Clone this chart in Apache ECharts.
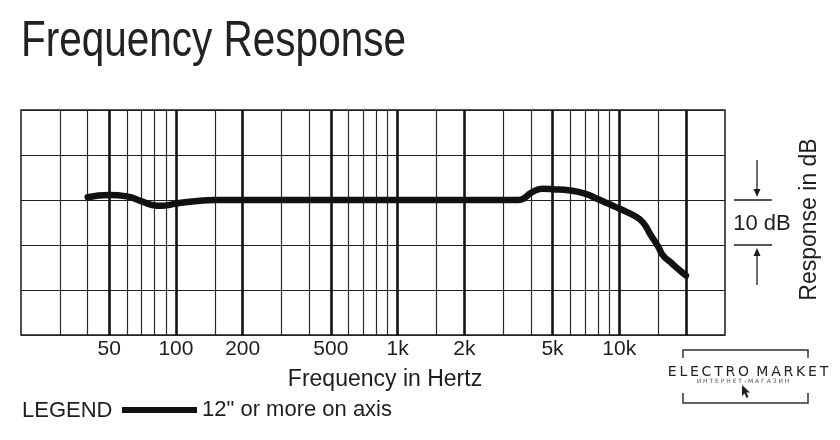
<!DOCTYPE html>
<html>
<head>
<meta charset="utf-8">
<script src="https://cdn.jsdelivr.net/npm/echarts@6/dist/echarts.min.js"></script>
<style>
  html, body { margin: 0; padding: 0; background: #ffffff; }
  #chart { width: 840px; height: 440px; }
</style>
</head>
<body>
<div id="chart"></div>
<script>
// ---- data ----
const freqHz = [40, 50, 60, 70, 78, 86, 100, 125, 150, 200, 500, 1000, 2000, 3000, 3500, 3700, 4000, 4500, 5000, 6000, 7000, 8000, 9000, 10000, 11700, 12800, 13800, 15000, 15800, 17200, 18500, 20000];
const responseDb = [0.6, 1.1, 0.8, -0.3, -1.1, -1.3, -0.8, -0.2, 0, 0, 0, 0, 0, 0, 0, 0.3, 1.6, 2.5, 2.4, 2.1, 1.4, 0.2, -0.9, -1.9, -3.5, -5.0, -7.6, -10.4, -12.4, -14.0, -15.4, -16.8];
const xTickValues = [50, 100, 200, 500, 1000, 2000, 5000, 10000];
const xTickLabels = ['50', '100', '200', '500', '1k', '2k', '5k', '10k'];
const majorGridHz = [50, 100, 200, 500, 1000, 2000, 5000, 10000, 20000];
const minorGridHz = [30, 40, 60, 70, 80, 90, 150, 300, 400, 600, 700, 800, 900, 1500, 3000, 4000, 6000, 7000, 8000, 9000, 15000];
const seriesName = '12" or more on axis';

const FONT = "'Liberation Sans', Arial, Helvetica, sans-serif";
const INK = '#1e1e1e';

const chart = echarts.init(document.getElementById('chart'), null, { renderer: 'canvas' });

const gridLines = [];
minorGridHz.forEach(function (f) {
  gridLines.push({ xAxis: f, lineStyle: { width: 1.2, color: '#2a2a2a', type: 'solid' }, label: { show: false } });
});
majorGridHz.forEach(function (f) {
  const idx = xTickValues.indexOf(f);
  gridLines.push({
    xAxis: f,
    lineStyle: { width: 2.6, color: '#111', type: 'solid' },
    label: idx >= 0 ? {
      show: true, position: 'start', distance: 4,
      formatter: xTickLabels[idx],
      fontFamily: FONT, fontSize: 21, color: INK
    } : { show: false }
  });
});

chart.setOption({
  animation: false,
  backgroundColor: '#ffffff',
  legend: {
    left: 122, top: 399, padding: 0,
    itemWidth: 75, itemHeight: 6, itemGap: 10,
    data: [{ name: seriesName, icon: 'rect' }],
    textStyle: { fontFamily: FONT, fontSize: 22, color: INK },
    selectedMode: false
  },
  grid: {
    left: 21, right: 115, top: 110, bottom: 105,
    show: true, borderColor: '#1a1a1a', borderWidth: 1.5, backgroundColor: '#fff'
  },
  xAxis: {
    type: 'log', logBase: 10, min: 20, max: 30000,
    name: 'Frequency in Hertz', nameLocation: 'middle', nameGap: 33,
    nameTextStyle: { fontFamily: FONT, fontSize: 23, color: INK, padding: [0, 0, 0, 24] },
    axisLine: { show: false }, axisTick: { show: false },
    axisLabel: { show: false }, splitLine: { show: false }
  },
  yAxis: {
    type: 'value', min: -30, max: 20, interval: 10, position: 'right',
    name: 'Response in dB', nameLocation: 'middle', nameRotate: 90, nameGap: 73,
    nameTextStyle: { fontFamily: FONT, fontSize: 23, color: INK, padding: [0, 0, 0, 6] },
    axisLine: { show: false }, axisTick: { show: false }, axisLabel: { show: false },
    splitLine: { show: true, lineStyle: { color: '#222', width: 1.2 } }
  },
  series: [
    {
      name: 'grid', type: 'line', data: [], z: 1, silent: true,
      markLine: { silent: true, symbol: ['none', 'none'], animation: false, data: gridLines }
    },
    {
      name: seriesName, type: 'line', z: 5,
      data: freqHz.map(function (f, i) { return [f, responseDb[i]]; }),
      smooth: 0.5, showSymbol: false, symbol: 'none',
      lineStyle: { width: 6.5, color: '#111', cap: 'round', join: 'round' },
      itemStyle: { color: '#111' }
    }
  ]
});

// 10 dB scale marker, positioned from the y axis scale
const y0 = chart.convertToPixel({ yAxisIndex: 0 }, 0);
const y1 = chart.convertToPixel({ yAxisIndex: 0 }, -10);
const ax = 757;
chart.setOption({
  graphic: [
    { type: 'text', x: 21, y: 17, scaleX: 0.81, style: { text: 'Frequency Response', fontFamily: FONT, fontSize: 50, fill: '#222', align: 'left', verticalAlign: 'top' } },
    { type: 'line', shape: { x1: 734, y1: y0, x2: 772, y2: y0 }, style: { stroke: INK, lineWidth: 1.3 } },
    { type: 'line', shape: { x1: 734, y1: y1, x2: 772, y2: y1 }, style: { stroke: INK, lineWidth: 1.3 } },
    { type: 'line', shape: { x1: ax, y1: y0 - 40, x2: ax, y2: y0 - 8 }, style: { stroke: INK, lineWidth: 1.3 } },
    { type: 'polygon', shape: { points: [[ax - 3.5, y0 - 11], [ax + 3.5, y0 - 11], [ax, y0 - 3]] }, style: { fill: INK } },
    { type: 'line', shape: { x1: ax, y1: y1 + 8, x2: ax, y2: y1 + 40 }, style: { stroke: INK, lineWidth: 1.3 } },
    { type: 'polygon', shape: { points: [[ax - 3.5, y1 + 11], [ax + 3.5, y1 + 11], [ax, y1 + 3]] }, style: { fill: INK } },
    { type: 'text', x: 762, y: (y0 + y1) / 2 + 1, style: { text: '10 dB', fontFamily: FONT, fontSize: 22, fill: INK, align: 'center', verticalAlign: 'middle' } },
    { type: 'text', x: 22, y: 411, style: { text: 'LEGEND', fontFamily: FONT, fontSize: 22, fill: INK, align: 'left', verticalAlign: 'middle' } },
    // watermark
    { type: 'polyline', shape: { points: [[683, 358], [683, 350], [808, 350], [808, 358]] }, style: { stroke: '#333', lineWidth: 1.5, fill: null } },
    { type: 'polyline', shape: { points: [[683, 393], [683, 403], [808, 403], [808, 393]] }, style: { stroke: '#333', lineWidth: 1.5, fill: null } },
    { type: 'rect', shape: { x: 668, y: 362, width: 162, height: 24 }, style: { fill: '#fff' } },
    { type: 'text', x: 748, y: 372, style: { text: 'E\u2009L\u2009E\u2009C\u2009T\u2009R\u2009O\u2009 M\u2009A\u2009R\u2009K\u2009E\u2009T', fontFamily: "'DejaVu Sans', sans-serif", fontSize: 14, fill: '#222', align: 'center', verticalAlign: 'middle' } },
    { type: 'text', x: 743, y: 381, style: { text: 'И Н Т Е Р Н Е Т - М А Г А З И Н', fontFamily: "'DejaVu Sans', sans-serif", fontSize: 6, fill: '#555', align: 'center', verticalAlign: 'middle' } },
    { type: 'polygon', shape: { points: [[742, 385], [742, 396], [744.5, 393.5], [746.5, 398], [748.5, 397], [746.5, 392.5], [750, 392.5]] }, style: { fill: '#222' } }
  ]
});
</script>
</body>
</html>
